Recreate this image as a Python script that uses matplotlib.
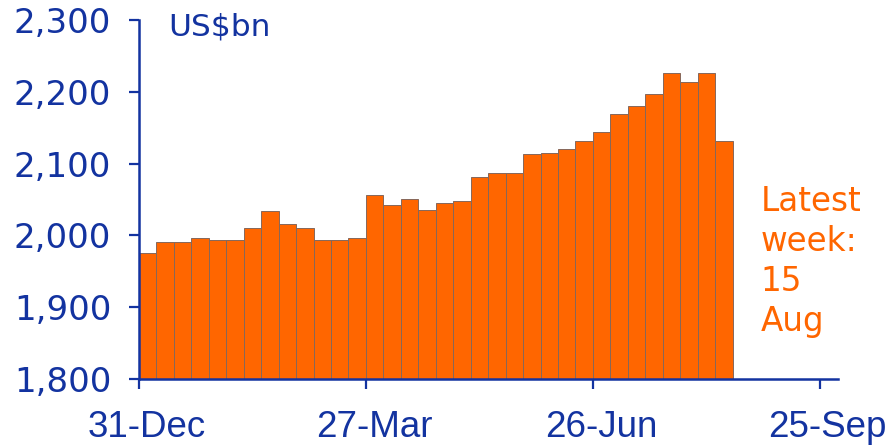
import matplotlib.pyplot as plt
import matplotlib.transforms as mtransforms
import numpy as np

# weekly values, US$bn, from week of 31-Dec to 15-Aug
values = [1975, 1991, 1991, 1996, 1994, 1994, 2011, 2034, 2016, 2011,
          1994, 1994, 1997, 2056, 2042, 2051, 2036, 2045, 2048, 2082,
          2087, 2087, 2113, 2115, 2121, 2132, 2144, 2169, 2180, 2197,
          2226, 2214, 2226, 2132]
tick_pos = [0, 13, 26, 39]
tick_labels = ['31-Dec', '27-Mar', '26-Jun', '25-Sep']
yticks = [1800, 1900, 2000, 2100, 2200, 2300]

BLUE = '#1333A0'
ORANGE = '#FF6600'

fig = plt.figure(figsize=(8.94, 4.46), dpi=100)
ax = fig.add_axes([0.1555, 0.1502, 0.782, 0.805])

x = np.arange(len(values))
ax.bar(x, np.array(values) - 1800, bottom=1800, width=1, align='edge',
       color=ORANGE, edgecolor='#86675a', linewidth=0.7)

ax.set_xlim(0, 40.05)
ax.set_ylim(1800, 2300)
ax.set_xticks(tick_pos)
ax.set_xticklabels(tick_labels, family=['Liberation Sans', 'DejaVu Sans'],
                   fontsize=26.5, color=BLUE)
ax.set_yticks(yticks)
ax.set_yticklabels(['{:,}'.format(v) for v in yticks], fontsize=24.5, color=BLUE)

for s in ['top', 'right']:
    ax.spines[s].set_visible(False)
for s in ['left', 'bottom']:
    ax.spines[s].set_color(BLUE)
    ax.spines[s].set_linewidth(1.8)
ax.tick_params(axis='both', colors=BLUE, length=7, width=1.6, direction='out')
ax.tick_params(axis='y', pad=13)
ax.tick_params(axis='x', pad=15)

# labels sit a little right of their ticks in the original
shift = mtransforms.ScaledTranslation(8 / 100, 0, fig.dpi_scale_trans)
for lab in ax.get_xticklabels():
    lab.set_transform(lab.get_transform() + shift)

ax.text(1.66, 2290, 'US$bn', fontsize=22.5, color=BLUE, va='center', ha='left')
ax.text(35.6, 1963, 'Latest\nweek:\n15\nAug', fontsize=23.5, color=ORANGE,
        va='center', ha='left', linespacing=1.27)

fig.savefig('out.png', dpi=100)
